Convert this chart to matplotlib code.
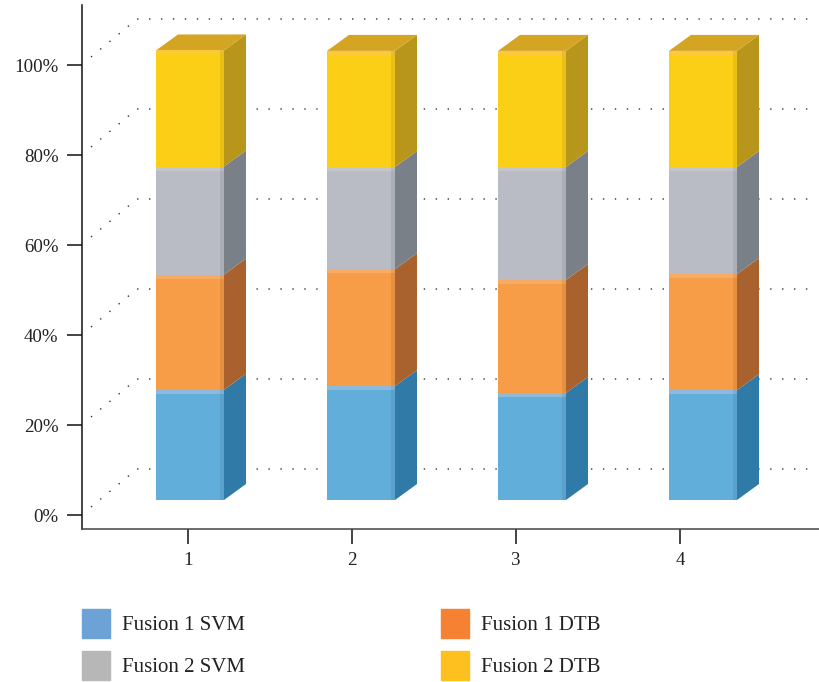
import matplotlib
matplotlib.use('Agg')
import matplotlib.pyplot as plt
from matplotlib.patches import Patch
import numpy as np

plt.rcParams['font.family'] = ['Liberation Serif', 'DejaVu Serif']

categories = [1, 2, 3, 4]
labels = ['Fusion 1 SVM', 'Fusion 1 DTB', 'Fusion 2 SVM', 'Fusion 2 DTB']
fusion1_svm = [24.5, 25.3, 23.8, 24.4]
fusion1_dtb = [25.6, 26.0, 25.1, 25.8]
fusion2_svm = [24.0, 22.7, 25.1, 23.8]
fusion2_dtb = [25.8, 25.8, 25.8, 25.8]
yticks = [0, 20, 40, 60, 80, 100]

front_cols = ['#62aedb', '#f79c47', '#b9bcc5', '#fccf17']
band_cols = ['#8db9dc', '#f8ab62', '#c4c6cc', '#fbc93a']
side_cols = ['#2f7aa6', '#a9622d', '#7a8087', '#b8951b']
top_col = '#d4a423'
legend_cols = ['#6ca2d6', '#b7b7b7', '#f58233', '#fdc01f']

W, H = 819, 682
PX_X = 1 / 164   # data units per pixel, x
PX_Y = 1 / 4.5   # data units per pixel, y

fig = plt.figure(figsize=(W / 100, H / 100), dpi=100)
ax = fig.add_axes([82 / W, 1 - 529 / H, (W - 82) / W, 524 / H])
ax.set_xlim(1 - 106 * PX_X, 1 + 631 * PX_X)
ax.set_ylim(-14 * PX_Y, 510 * PX_Y)

# back wall dotted grid
for t in yticks:
    ax.plot([1 - 97 * PX_X, 1 - 51 * PX_X, 1 + 624 * PX_X],
            [t + 8 * PX_Y, t + 46 * PX_Y, t + 46 * PX_Y],
            color='#333333', lw=1.0, ls=(0, (1, 7.6)), zorder=1)

# the fake 3d stacked bars
series = [fusion1_svm, fusion1_dtb, fusion2_svm, fusion2_dtb]
bar_w = 68 * PX_X
dx = 22 * PX_X
dy = 16 * PX_Y
lift = 15 * PX_Y
for i, c in enumerate(categories):
    x = 1 + 2 * PX_X + (c - 1) * 171 * PX_X
    l, r = x - bar_w / 2, x + bar_w / 2
    bottom = lift
    for s, vals in enumerate(series):
        v = vals[i]
        ax.fill([r, r + dx, r + dx, r], [bottom, bottom + dy, bottom + v + dy, bottom + v],
                color=side_cols[s], lw=0, zorder=3)
        ax.bar(x, v, bar_w, bottom=bottom, color=front_cols[s], lw=0, zorder=4)
        ax.bar(x, 4 * PX_Y, bar_w, bottom=bottom + v - 4 * PX_Y, color=band_cols[s], lw=0, zorder=5)
        ax.bar(r - 2 * PX_X, v, 4 * PX_X, bottom=bottom, color='black', alpha=0.07, lw=0, zorder=6)
        bottom += v
    ax.fill([l, l + dx, r + dx, r], [bottom, bottom + dy, bottom + dy, bottom],
            color=top_col, lw=0, zorder=3)

ax.set_xticks(categories)
ax.set_yticks(yticks)
ax.set_yticklabels(['%d%%' % t for t in yticks])
ax.tick_params(axis='both', length=10.5, width=1.1, color='#111111', labelsize=13.6, labelcolor='#222222')
ax.tick_params(axis='y', pad=6.5)
ax.tick_params(axis='x', pad=6)
ax.spines['top'].set_visible(False)
ax.spines['right'].set_visible(False)
ax.spines['left'].set_linewidth(1.1)
ax.spines['left'].set_color('#111111')
ax.spines['bottom'].set_linewidth(1.1)
ax.spines['bottom'].set_color('#444444')

handles = [Patch(color=legend_cols[0]), Patch(color=legend_cols[1]),
           Patch(color=legend_cols[2]), Patch(color=legend_cols[3])]
names = [labels[0], labels[2], labels[1], labels[3]]
ax.legend(handles, names, ncol=2, frameon=False, fontsize=15,
          handlelength=1.35, handleheight=1.75, handletextpad=0.58,
          columnspacing=9.4, labelspacing=0.62, labelcolor='#222222',
          borderaxespad=0, borderpad=0, loc='upper left',
          bbox_to_anchor=(0, -80 / 524))

fig.savefig('out.png', dpi=100)
